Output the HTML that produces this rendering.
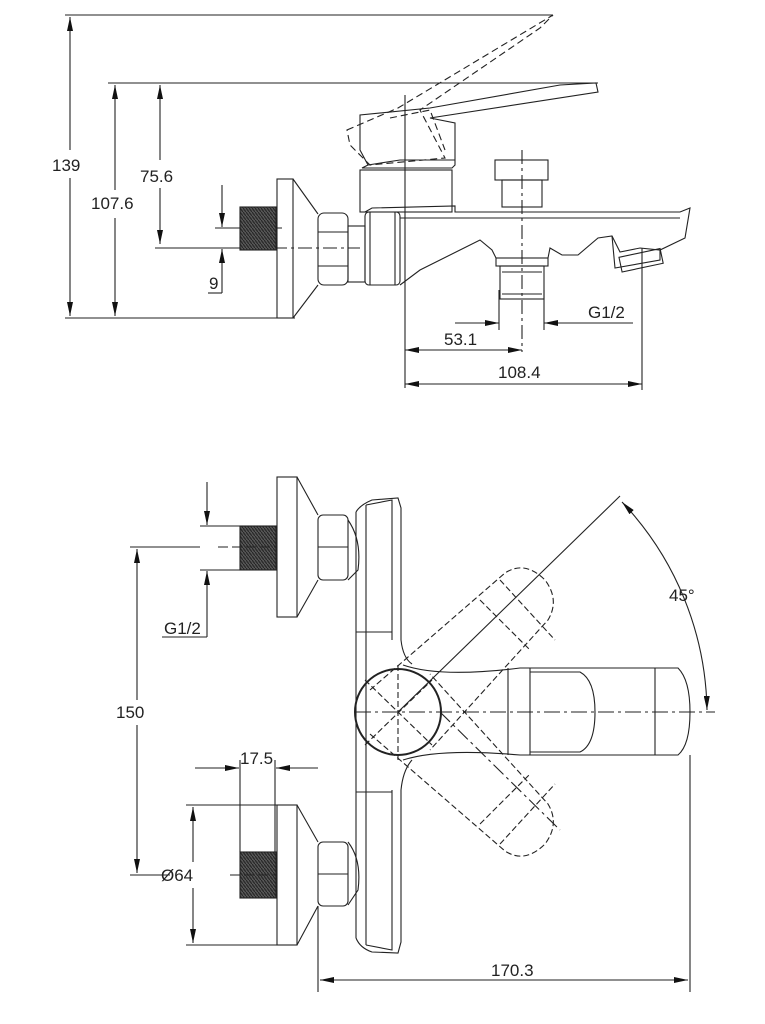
<!DOCTYPE html>
<html><head><meta charset="utf-8"><style>
html,body{margin:0;padding:0;background:#fff;}
svg{display:block}
text{font-family:"Liberation Sans",sans-serif;font-size:17px;fill:#222}
</style></head><body>
<svg width="765" height="1024" viewBox="0 0 765 1024" xmlns="http://www.w3.org/2000/svg">
<defs>
<marker id="a" viewBox="0 0 14 6" refX="14" refY="3" markerWidth="14" markerHeight="6" markerUnits="userSpaceOnUse" orient="auto-start-reverse"><path d="M0,0L14,3L0,6z" fill="#111"/></marker>
<pattern id="th" width="3" height="4" patternUnits="userSpaceOnUse"><rect width="3" height="4" fill="#555"/><path d="M0,0L3,4" stroke="#222" stroke-width="1"/></pattern>
</defs>
<g stroke="#222" stroke-width="1.1" fill="none">
<!-- TOP VIEW dims -->
<line x1="65" y1="15" x2="553" y2="15"/>
<line x1="108" y1="83" x2="598" y2="83"/>
<line x1="65" y1="318" x2="295" y2="318"/>
<line x1="70" y1="17" x2="70" y2="150" marker-start="url(#a)"/>
<line x1="70" y1="178" x2="70" y2="316" marker-end="url(#a)"/>
<line x1="115" y1="85" x2="115" y2="190" marker-start="url(#a)"/>
<line x1="115" y1="218" x2="115" y2="316" marker-end="url(#a)"/>
<line x1="160" y1="85" x2="160" y2="160" marker-start="url(#a)"/>
<line x1="160" y1="188" x2="160" y2="244" marker-end="url(#a)"/>
<line x1="155" y1="248" x2="240" y2="248"/>
<line x1="215" y1="228" x2="282" y2="228"/>
<line x1="222" y1="185" x2="222" y2="227" marker-end="url(#a)"/>
<line x1="222" y1="293" x2="222" y2="249" marker-end="url(#a)"/>
<polyline points="208,293 222,293"/>
<line x1="248" y1="248" x2="360" y2="248" stroke-dasharray="14,4,3,4"/>
<rect x="240" y="207" width="36" height="43" fill="url(#th)" stroke="#222"/>
<rect x="277" y="179" width="16" height="139"/>
<path d="M293,179L318,214M293,318L318,285"/>
<rect x="318" y="213" width="30" height="72" rx="6"/>
<path d="M318,232H348M318,266H348"/>
<rect x="348" y="226" width="17" height="56"/>
<rect x="365" y="212" width="35" height="73" rx="4"/>
<path d="M370,212V285M395,212V285"/>
<!-- spout -->
<path d="M365,212L372,208L455,206L455,212H680L690,208L685,238L660,250L640,248L620,252L612,236L598,238L578,255L562,255L550,248L548,258H496L492,250L480,240L460,250L420,270L400,285"/>
<path d="M400,218H680M612,236L615,268L660,260L660,250"/>
<rect x="620" y="253" width="42" height="15" transform="rotate(-12 640 260)"/>
<rect x="496" y="258" width="52" height="8"/>
<rect x="500" y="266" width="44" height="33"/>
<path d="M502,272H542M502,294H542"/>
<rect x="495" y="160" width="53" height="20"/>
<rect x="502" y="180" width="40" height="27"/>
<!-- cartridge -->
<rect x="360" y="170" width="92" height="42"/>
<path d="M362,168H452L455,165V123L430,118L598,92L596,83L560,85L430,108L360,115V150L368,165Z"/>
<path d="M368,165L400,160L455,160"/>
<g stroke-dasharray="7,4">
<path d="M347,130L398,108L553,15L540,28L420,110L445,158L370,165L350,145Z"/>
<path d="M390,118L430,110L445,150"/>
</g>
<line x1="405" y1="95" x2="405" y2="388"/>
<line x1="522" y1="150" x2="522" y2="352" stroke-dasharray="14,4,3,4"/>
<line x1="642" y1="248" x2="642" y2="390"/>
<line x1="499" y1="290" x2="499" y2="330"/>
<line x1="544" y1="290" x2="544" y2="330"/>
<line x1="455" y1="323" x2="499" y2="323" marker-end="url(#a)"/>
<line x1="633" y1="323" x2="544" y2="323" marker-end="url(#a)"/>
<line x1="405" y1="350" x2="522" y2="350" marker-start="url(#a)" marker-end="url(#a)"/>
<line x1="405" y1="384" x2="642" y2="384" marker-start="url(#a)" marker-end="url(#a)"/>

<!-- BOTTOM VIEW -->
<rect x="277" y="477" width="20" height="140"/>
<path d="M297,477L318,515M297,617L318,580"/>
<rect x="240" y="526" width="36" height="44" fill="url(#th)" stroke="#222"/>
<rect x="318" y="515" width="30" height="65" rx="5"/>
<path d="M318,547H348"/>
<rect x="277" y="805" width="20" height="140"/>
<path d="M297,805L318,842M297,945L318,906"/>
<rect x="240" y="852" width="36" height="46" fill="url(#th)" stroke="#222"/>
<rect x="318" y="842" width="30" height="64" rx="5"/>
<path d="M318,874H348"/>
<path d="M348,520Q362,540 358,570L348,580M348,842Q362,860 358,890L348,905"/>
<!-- plate -->
<path d="M356,512L356,938M366,505V945"/>
<path d="M356,512Q360,505 372,500L398,498L401,508V640Q403,658 412,664"/>
<path d="M356,938Q360,948 372,952L398,953L401,942V790Q403,770 412,760"/>
<path d="M366,505L392,500V640M366,945L392,950V790"/>
<path d="M356,632H392M356,792H392"/>
<path d="M403,665Q440,678 520,668H678Q690,680 690,712Q690,745 678,755H520Q440,748 403,760"/>
<circle cx="398" cy="712" r="43" stroke-width="2"/>
<path d="M508,668V755M530,668V755M655,668V755"/>
<path d="M530,672H580Q595,680 595,712Q595,745 580,752H530"/>
<g stroke-dasharray="6,3">
<path d="M370,690L505,573Q525,560 545,580Q560,600 548,620L430,750"/>
<path d="M370,734L505,851Q525,864 545,844Q560,824 548,804L430,674"/>
<path d="M480,600L530,650M500,580L555,640M480,824L530,774M500,844L555,784"/>
<path d="M355,712H715" stroke-dasharray="16,4,3,4"/>
<path d="M398,665V760M365,680L432,745M365,745L432,680"/>
</g>
<line x1="398" y1="712" x2="620" y2="496"/>
<line x1="440" y1="712" x2="560" y2="830" stroke-dasharray="14,4,3,4"/>
<path d="M622,502A310,310 0 0 1 707,710" marker-start="url(#a)" marker-end="url(#a)"/>
<!-- left dims -->
<line x1="200" y1="526" x2="276" y2="526"/>
<line x1="200" y1="570" x2="276" y2="570"/>
<line x1="130" y1="547" x2="200" y2="547"/>
<line x1="218" y1="547" x2="276" y2="547" stroke-dasharray="10,4"/>
<line x1="207" y1="482" x2="207" y2="525" marker-end="url(#a)"/>
<line x1="207" y1="637" x2="207" y2="571" marker-end="url(#a)"/>
<line x1="162" y1="637" x2="207" y2="637"/>
<line x1="137" y1="549" x2="137" y2="700" marker-start="url(#a)"/>
<line x1="137" y1="725" x2="137" y2="873" marker-end="url(#a)"/>
<line x1="130" y1="875" x2="170" y2="875"/>
<line x1="230" y1="875" x2="276" y2="875" stroke-dasharray="10,4"/>
<line x1="186" y1="805" x2="277" y2="805"/>
<line x1="186" y1="945" x2="277" y2="945"/>
<line x1="193" y1="807" x2="193" y2="862" marker-start="url(#a)"/>
<line x1="193" y1="888" x2="193" y2="943" marker-end="url(#a)"/>
<line x1="240" y1="760" x2="240" y2="852"/>
<line x1="275" y1="760" x2="275" y2="852"/>
<line x1="195" y1="768" x2="239" y2="768" marker-end="url(#a)"/>
<line x1="318" y1="768" x2="276" y2="768" marker-end="url(#a)"/>
<line x1="318" y1="906" x2="318" y2="992"/>
<line x1="690" y1="755" x2="690" y2="992"/>
<line x1="320" y1="980" x2="688" y2="980" marker-start="url(#a)" marker-end="url(#a)"/>
</g>
<g>
<text x="52" y="171">139</text>
<text x="91" y="209">107.6</text>
<text x="140" y="182">75.6</text>
<text x="209" y="289">9</text>
<text x="444" y="345">53.1</text>
<text x="498" y="378">108.4</text>
<text x="588" y="318">G1/2</text>
<text x="164" y="634">G1/2</text>
<text x="116" y="718">150</text>
<text x="161" y="881">Ø64</text>
<text x="240" y="764">17.5</text>
<text x="669" y="601">45°</text>
<text x="491" y="976">170.3</text>
</g>
</svg>
</body></html>
